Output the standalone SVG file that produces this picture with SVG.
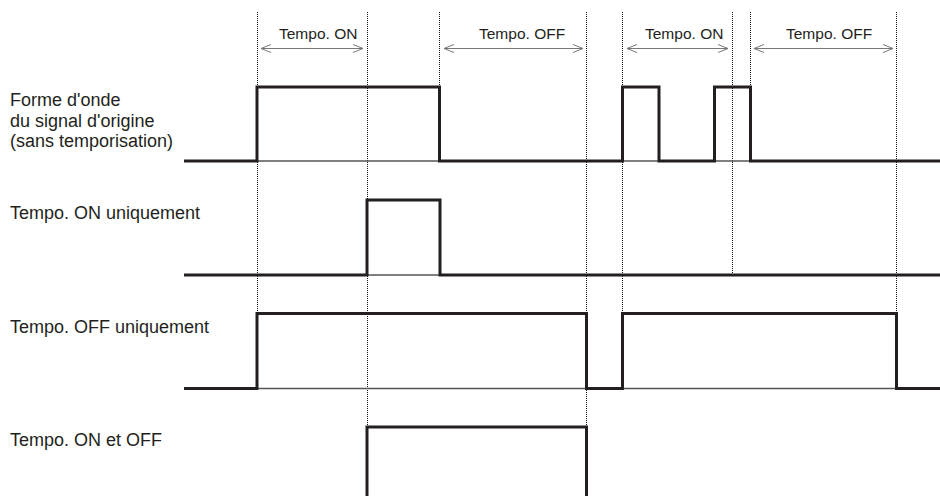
<svg xmlns="http://www.w3.org/2000/svg" width="940" height="496" viewBox="0 0 940 496">
<style>
.lbl{font-family:"Liberation Sans",Arial,sans-serif;font-size:18px;fill:#231f20}
.hdr{font-family:"Liberation Sans",Arial,sans-serif;font-size:15.5px;fill:#231f20}
.dot{stroke:#111;stroke-width:1;stroke-dasharray:1 1;fill:none}
.wave{stroke:#231f20;stroke-width:3;fill:none;stroke-linejoin:miter}
.base{stroke:#555;stroke-width:1.3;fill:none}
.arr{stroke:#777;stroke-width:1;fill:none}
</style>
<defs>
<marker id="ah" viewBox="0 0 12 10" refX="11" refY="5" markerWidth="12" markerHeight="10" markerUnits="userSpaceOnUse" orient="auto-start-reverse">
<path d="M1,1 L11,5 L1,9" stroke="#777" stroke-width="1" fill="none"/>
</marker>
</defs>
<g id="guides">
<line class="dot" x1="257.5" y1="12" x2="257.5" y2="388"/>
<line class="dot" x1="367.5" y1="12" x2="367.5" y2="496"/>
<line class="dot" x1="439.5" y1="12" x2="439.5" y2="87"/>
<line class="dot" x1="586.5" y1="12" x2="586.5" y2="496"/>
<line class="dot" x1="622.5" y1="12" x2="622.5" y2="388"/>
<line class="dot" x1="732.5" y1="12" x2="732.5" y2="275"/>
<line class="dot" x1="750.5" y1="12" x2="750.5" y2="87"/>
<line class="dot" x1="896.5" y1="12" x2="896.5" y2="388"/>
</g>
<g id="headers">
<line class="arr" x1="261" y1="48.5" x2="363" y2="48.5" marker-start="url(#ah)" marker-end="url(#ah)"/>
<text class="hdr" x="279" y="39">Tempo. ON</text>
<line class="arr" x1="444" y1="48.5" x2="583" y2="48.5" marker-start="url(#ah)" marker-end="url(#ah)"/>
<text class="hdr" x="479" y="39">Tempo. OFF</text>
<line class="arr" x1="627" y1="48.5" x2="728" y2="48.5" marker-start="url(#ah)" marker-end="url(#ah)"/>
<text class="hdr" x="645" y="39">Tempo. ON</text>
<line class="arr" x1="754" y1="48.5" x2="893" y2="48.5" marker-start="url(#ah)" marker-end="url(#ah)"/>
<text class="hdr" x="786" y="39">Tempo. OFF</text>
</g>
<g id="row1">
<text class="lbl" x="10" y="106">Forme d'onde</text>
<text class="lbl" x="10" y="126.5">du signal d'origine</text>
<text class="lbl" x="10" y="147">(sans temporisation)</text>
<line class="base" x1="184" y1="161" x2="940" y2="161"/>
<path class="wave" d="M184,161 H257 V87 H439.5 V161 H622.5 V87 H659 V161 H714.5 V87 H750.5 V161 H940"/>
</g>
<g id="row2">
<text class="lbl" x="10" y="219">Tempo. ON uniquement</text>
<line class="base" x1="184" y1="275" x2="940" y2="275"/>
<path class="wave" d="M184,275 H367 V200 H440 V275 H940"/>
</g>
<g id="row3">
<text class="lbl" x="10" y="333">Tempo. OFF uniquement</text>
<line class="base" x1="184" y1="388.5" x2="940" y2="388.5"/>
<path class="wave" d="M184,388.5 H257 V313.5 H586.5 V388.5 H622.5 V313.5 H896.5 V388.5 H940"/>
</g>
<g id="row4">
<text class="lbl" x="10" y="446">Tempo. ON et OFF</text>
<path class="wave" d="M367,496 V427 H586.5 V496"/>
</g>
</svg>
